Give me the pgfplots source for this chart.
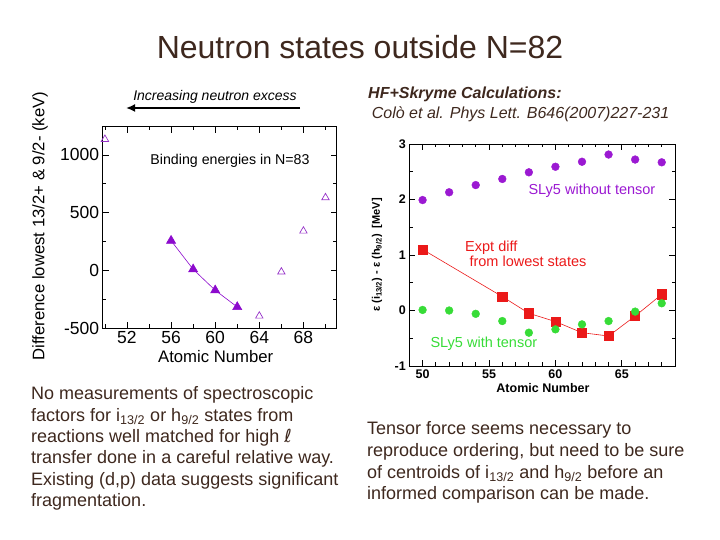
\documentclass[border=0pt]{standalone}
\usepackage{pgfplots}
\pgfplotsset{compat=1.18}
\usepackage{fontspec}
\setmainfont{Liberation Sans}
\newfontfamily\dejavu{DejaVu Sans}
\usetikzlibrary{arrows.meta}
\definecolor{txt}{RGB}{62,40,30}
\definecolor{tri1}{RGB}{150,50,200}
\definecolor{tri2}{RGB}{140,10,205}
\definecolor{cpurple}{RGB}{155,25,210}
\definecolor{cred}{RGB}{235,25,25}
\definecolor{cgreen}{RGB}{55,220,55}
\newcommand{\fs}[2]{\fontsize{#1pt}{#2pt}\selectfont}
\begin{document}
\begin{tikzpicture}[x=1pt,y=1pt]
\path[use as bounding box] (0,0) rectangle (720,540);

% ---------- left axis ----------
\begin{axis}[
  at={(102.7pt,212pt)}, anchor=south west, scale only axis,
  width=233.8pt, height=201.3pt,
  xmin=49.8, xmax=71, ymin=-500, ymax=1245,
  xtick={52,56,60,64,68}, minor xtick={50,54,58,62,66,70},
  ytick={-500,0,500,1000}, minor ytick={-250,250,750},
  tick align=inside, major tick length=6pt, minor tick length=3.5pt,
  every tick/.style={black, line width=0.8pt},
  axis line style={line width=0.8pt},
  ticklabel style={font=\fs{17.5}{20}},
  /pgf/number format/assume math mode=true,
  /pgf/number format/1000 sep={},
  clip=false,
]
\addplot[only marks, mark=triangle, mark size=4.3, mark options={draw=tri1, line width=0.7pt}]
  coordinates {(50,1136) (64,-396) (66,-14) (68,341) (70,630)};
\addplot[sharp plot, tri2, line width=0.6pt, mark=triangle*, mark size=5.2, mark options={fill=tri2, draw=tri2}]
  coordinates {(56,257) (58,9) (60,-173) (62,-318)};
\end{axis}

% ---------- right axis ----------
\begin{axis}[
  at={(409.3pt,174pt)}, anchor=south west, scale only axis,
  width=265.7pt, height=222pt,
  xmin=49, xmax=69, ymin=-1, ymax=3,
  xtick={50,55,60,65}, minor xtick={49,51,52,53,54,56,57,58,59,61,62,63,64,66,67,68},
  ytick={-1,0,1,2,3}, minor ytick={-0.5,0.5,1.5,2.5},
  tick align=inside, major tick length=6pt, minor tick length=3.5pt,
  every tick/.style={black, line width=0.8pt},
  axis line style={line width=0.8pt},
  ticklabel style={font=\bfseries\fs{12.5}{15}},
  /pgf/number format/assume math mode=true,
  clip=false,
]
\addplot[only marks, mark=*, mark size=3.9, mark options={fill=cpurple, draw=cpurple}]
  coordinates {(50,1.99) (52,2.13) (54,2.26) (56,2.37) (58,2.49) (60,2.59) (62,2.68) (64,2.81) (66,2.72) (68,2.67)};
\addplot[sharp plot, cred, line width=0.6pt, mark=square*, mark size=4.6, mark options={fill=cred, draw=cred}]
  coordinates {(50,1.10) (56,0.25) (58,-0.05) (60,-0.20) (62,-0.40) (64,-0.46) (66,-0.10) (68,0.29)};
\addplot[only marks, mark=*, mark size=3.9, mark options={fill=cgreen, draw=cgreen}]
  coordinates {(50,0.01) (52,0.00) (54,-0.06) (56,-0.19) (58,-0.40) (60,-0.34) (62,-0.25) (64,-0.19) (66,-0.02) (68,0.13)};
\end{axis}

% ---------- axis labels ----------
\node[rotate=90, font=\fs{16.7}{20}] at (40,314) {Difference lowest 13/2+ \& 9/2- (keV)};
\node[font=\fs{16.7}{20}] at (215.7,183.3) {Atomic Number};
\node[font=\fs{14.2}{17}, anchor=base] at (230,375) {Binding energies in N=83};

\node[rotate=90, font=\bfseries\fs{11}{13}] at (377,285) {ε (i\textsubscript{13/2}) - ε (h\textsubscript{9/2})~~[MeV]};
\node[font=\bfseries\fs{12.5}{15}] at (543,152) {Atomic Number};
\node[font=\fs{14.5}{17}, text=cpurple, anchor=base west] at (525,345) {SLy5 without tensor};
\node[font=\fs{14.5}{17}, text=cred, anchor=base west] at (461.7,288) {Expt diff};
\node[font=\fs{14.5}{17}, text=cred, anchor=base west] at (466,273) {from lowest states};
\node[font=\fs{14.5}{17}, text=cgreen, anchor=base west] at (427,192) {SLy5 with tensor};

% ---------- title and headers ----------
\node[font=\fs{32}{37}, text=txt, anchor=base] at (360,481) {Neutron states outside N=82};
\node[font=\itshape\fs{14}{17}, anchor=base] at (215,439) {Increasing neutron excess};
\draw[line width=2pt, -{Latex[length=9pt,width=8pt]}] (300,432) -- (126,432);
\node[font=\bfseries\itshape\fs{16}{19}, text=txt, anchor=base west, inner sep=0] at (368,441.7) {HF+Skryme Calculations:};
\node[font=\itshape\fs{16}{19}, text=txt, anchor=base west, inner sep=0] at (371.7,421) {Colò et al. Phys Lett. B646(2007)227-231};

% ---------- paragraphs ----------
\begin{scope}[every node/.style={font=\fs{18}{21.5}, text=txt, anchor=base west, inner sep=0}]
\node at (31,140) {No measurements of spectroscopic};
\node at (31,118.7) {factors for i\textsubscript{13/2} or h\textsubscript{9/2} states from};
\node at (31,97.4) {reactions well matched for high {\dejavu ℓ}};
\node at (31,76.1) {transfer done in a careful relative way.};
\node at (31,54.8) {Existing (d,p) data suggests significant};
\node at (31,33.5) {fragmentation.};

\node at (367,105) {Tensor force seems necessary to};
\node at (367,83.3) {reproduce ordering, but need to be sure};
\node at (367,61.7) {of centroids of i\textsubscript{13/2} and h\textsubscript{9/2} before an};
\node at (367,40) {informed comparison can be made.};
\end{scope}
\end{tikzpicture}
\end{document}
